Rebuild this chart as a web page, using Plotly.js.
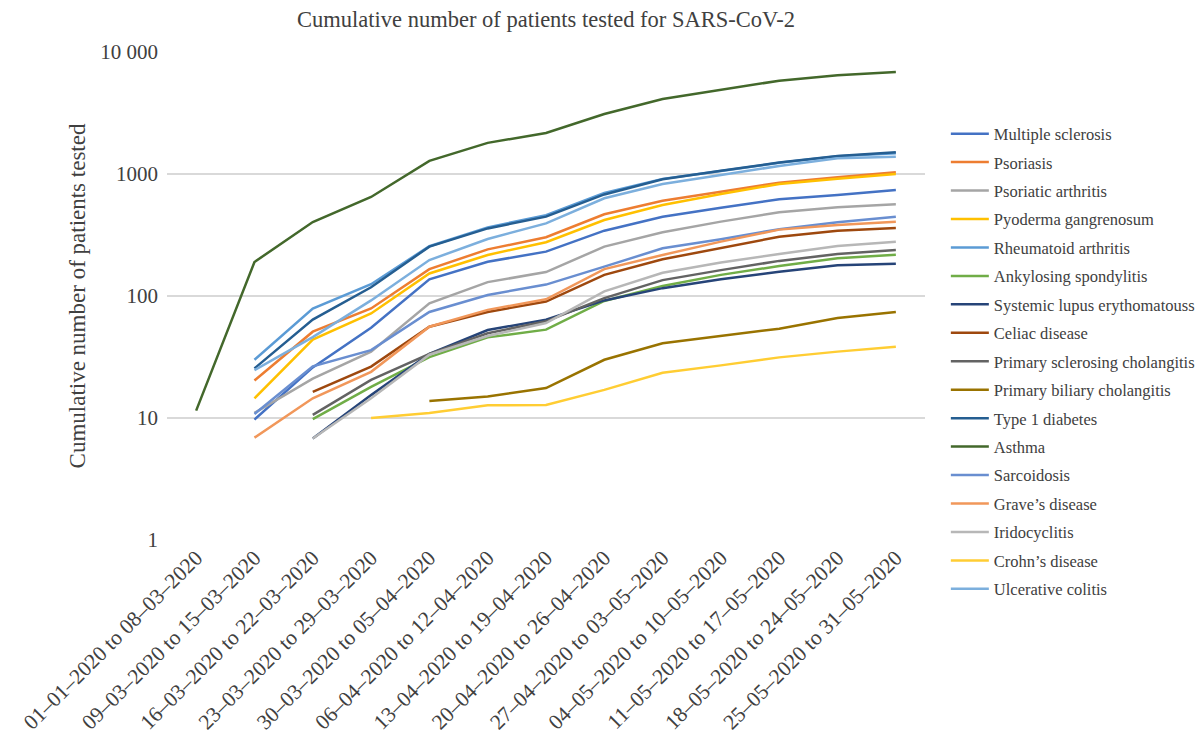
<!DOCTYPE html>
<html>
<head>
<meta charset="utf-8">
<script src="https://cdn.plot.ly/plotly-3.0.1.min.js"></script>
<style>html,body{margin:0;padding:0;background:#fff;}#chart{width:1203px;height:745px;}</style>
</head>
<body>
<div id="chart"></div>
<script>
const categories = [
  "01–01–2020 to 08–03–2020",
  "09–03–2020 to 15–03–2020",
  "16–03–2020 to 22–03–2020",
  "23–03–2020 to 29–03–2020",
  "30–03–2020 to 05–04–2020",
  "06–04–2020 to 12–04–2020",
  "13–04–2020 to 19–04–2020",
  "20–04–2020 to 26–04–2020",
  "27–04–2020 to 03–05–2020",
  "04–05–2020 to 10–05–2020",
  "11–05–2020 to 17–05–2020",
  "18–05–2020 to 24–05–2020",
  "25–05–2020 to 31–05–2020"
];

const multipleSclerosis   = [null, 9.7, 26, 55, 137, 191, 231, 343, 447, 530, 621, 673, 740];
const psoriasis           = [null, 20.3, 51, 79, 166, 241, 303, 468, 604, 716, 849, 940, 1033];
const psoriaticArthritis  = [null, 11, 21, 35, 87, 130, 157, 254, 333, 407, 486, 534, 565];
const pyodermaGangrenosum = [null, 14.5, 44, 72, 153, 217, 276, 420, 557, 686, 828, 916, 1000];
const rheumatoidArthritis = [null, 30, 79, 125, 256, 365, 460, 700, 912, 1060, 1235, 1400, 1480];
const ankylosingSpond     = [null, null, 9.8, 18, 31.6, 45.8, 53, 91, 121, 149, 176, 204, 218];
const systemicLupus       = [null, null, 6.8, 15.4, 33.5, 52.6, 64, 92, 116, 137, 158, 179, 184];
const celiacDisease       = [null, null, 16.4, 26.4, 56, 74, 90, 149, 200, 246, 306, 343, 361];
const primarySclerosing   = [null, null, 10.6, 20.5, 33.5, 49.5, 62, 96, 135, 163, 194, 221, 238];
const primaryBiliary      = [null, null, null, null, 13.8, 15, 17.6, 30, 41, 47, 54, 66, 74];
const type1Diabetes       = [null, 25.5, 64, 118, 254, 358, 447, 680, 905, 1064, 1240, 1406, 1506];
const asthma              = [11.5, 190, 404, 648, 1280, 1800, 2170, 3100, 4120, 4880, 5820, 6450, 6850];
const sarcoidosis         = [null, 10.8, 26.5, 36, 74, 102, 124, 174, 246, 292, 353, 402, 447];
const gravesDisease       = [null, 6.9, 14.5, 23.9, 56, 77, 94, 166, 217, 279, 350, 382, 407];
const iridocyclitis       = [null, null, 6.8, 14.5, 33, 47, 60, 109, 155, 188, 221, 257, 278];
const crohnsDisease       = [null, null, null, 10, 11, 12.7, 12.8, 17, 23.5, 27, 31.4, 35, 38.4];
const ulcerativeColitis   = [null, 24.7, 46, 92, 197, 293, 394, 632, 828, 981, 1164, 1344, 1387];

const seriesNames = [
  "Multiple sclerosis", "Psoriasis", "Psoriatic arthritis", "Pyoderma gangrenosum",
  "Rheumatoid arthritis", "Ankylosing spondylitis", "Systemic lupus erythomatouss",
  "Celiac disease", "Primary sclerosing cholangitis", "Primary biliary cholangitis",
  "Type 1 diabetes", "Asthma", "Sarcoidosis", "Grave’s disease", "Iridocyclitis",
  "Crohn’s disease", "Ulcerative colitis"
];
const seriesValues = [
  multipleSclerosis, psoriasis, psoriaticArthritis, pyodermaGangrenosum,
  rheumatoidArthritis, ankylosingSpond, systemicLupus, celiacDisease,
  primarySclerosing, primaryBiliary, type1Diabetes, asthma, sarcoidosis,
  gravesDisease, iridocyclitis, crohnsDisease, ulcerativeColitis
];
const seriesColors = [
  "#4472C4", "#ED7D31", "#A5A5A5", "#FFC000", "#5B9BD5", "#70AD47", "#264478",
  "#9E480E", "#636363", "#997300", "#255E91", "#43682B", "#698ED0", "#F1975A",
  "#B7B7B7", "#FFCD33", "#7CAFDD"
];

const yTickVals = [1, 10, 100, 1000, 10000];
const yTickText = ["1", "10", "100", "1000", "10 000"];

const FONT = "'Liberation Serif', 'DejaVu Serif', serif";

const traces = seriesNames.map((name, i) => ({
  type: "scatter",
  mode: "lines",
  name: name,
  x: categories,
  y: seriesValues[i],
  line: {color: seriesColors[i], width: 2.5},
  legendgroup: "g" + i,
  connectgaps: false,
  hoverinfo: "name+y"
}));

const layout = {
  width: 1203,
  height: 745,
  paper_bgcolor: "#ffffff",
  plot_bgcolor: "#ffffff",
  margin: {l: 167, r: 278, t: 52, b: 205, autoexpand: false},
  font: {family: FONT, color: "#404040", size: 18},
  title: {
    text: "Cumulative number of patients tested for SARS-CoV-2",
    font: {family: FONT, size: 22.5, color: "#404040"},
    x: 0.5, xref: "paper", y: 0.985, yanchor: "top"
  },
  xaxis: {
    type: "category",
    categoryorder: "array",
    categoryarray: categories,
    range: [-0.5, 12.5],
    tickangle: -45,
    showgrid: false,
    zeroline: false,
    showline: false,
    ticks: "",
    tickfont: {family: FONT, size: 21.5, color: "#404040"},
    automargin: false
  },
  yaxis: {
    type: "log",
    range: [0, 4],
    tickvals: yTickVals,
    ticktext: yTickText,
    showgrid: true,
    gridcolor: "#d9d9d9",
    gridwidth: 2,
    zeroline: false,
    showline: false,
    ticks: "",
    ticklabelstandoff: 8,
    tickfont: {family: FONT, size: 21, color: "#404040"},
    title: {
      text: "Cumulative number of patients tested",
      font: {family: FONT, size: 23, color: "#404040"},
      standoff: 8
    },
    automargin: false
  },
  showlegend: true,
  legend: {
    x: 1.0275, xanchor: "left",
    y: 0.868, yanchor: "top",
    font: {family: FONT, size: 16.5, color: "#404040"},
    tracegroupgap: 4,
    itemwidth: 38,
    bgcolor: "rgba(0,0,0,0)"
  }
};

Plotly.newPlot("chart", traces, layout, {displayModeBar: false, staticPlot: true});
</script>
</body>
</html>
